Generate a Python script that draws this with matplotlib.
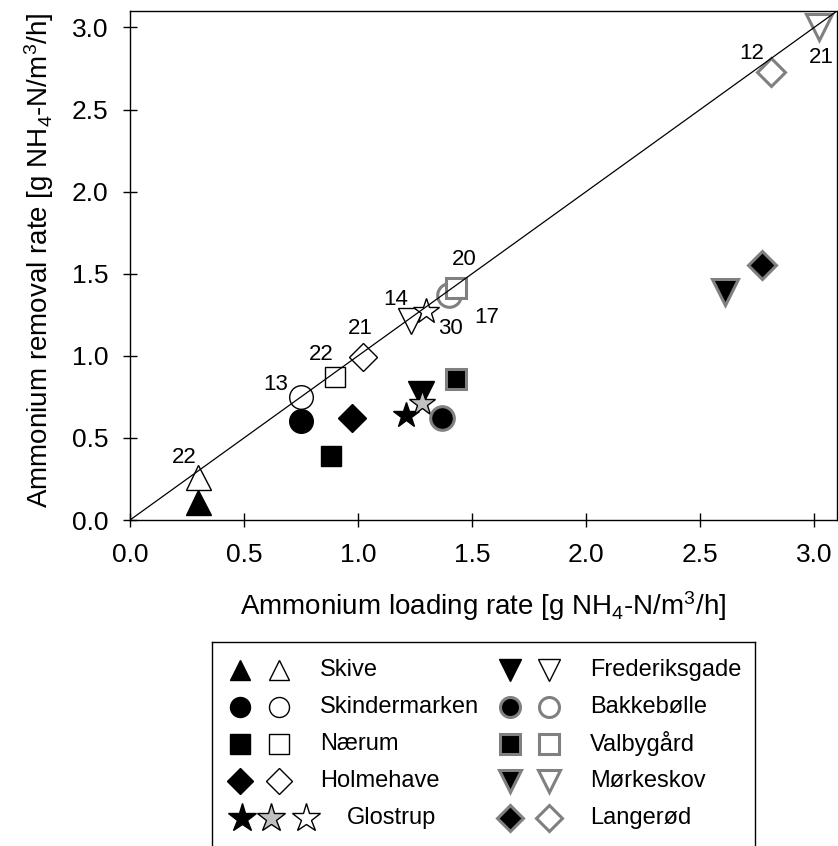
import numpy as np
import matplotlib
matplotlib.use('Agg')
import matplotlib.pyplot as plt

plt.rcParams['font.family'] = ['Liberation Sans', 'DejaVu Sans']
plt.rcParams['mathtext.fontset'] = 'custom'
plt.rcParams['mathtext.rm'] = 'Liberation Sans'
plt.rcParams['mathtext.it'] = 'Liberation Sans:italic'
plt.rcParams['mathtext.default'] = 'regular'

# data
sites = ['Skive', 'Skindermarken', 'Nærum', 'Holmehave', 'Glostrup',
         'Frederiksgade', 'Bakkebølle', 'Valbygård', 'Mørkeskov', 'Langerød']
load_closed = [0.30, 0.75, 0.88, 0.975, 1.21, 1.275, 1.37, 1.43, 2.61, 2.77]
rem_closed = [0.11, 0.60, 0.39, 0.62, 0.64, 0.77, 0.62, 0.86, 1.39, 1.555]
load_open = [0.30, 0.75, 0.90, 1.02, 1.30, 1.23, 1.40, 1.43, 3.02, 2.81]
rem_open = [0.26, 0.75, 0.87, 0.99, 1.27, 1.21, 1.37, 1.41, 3.00, 2.73]
open_labels = ['22', '13', '22', '21', '30', '14', '17', '20', '21', '12']
glostrup_grey_load = 1.28
glostrup_grey_rem = 0.71

# styles
markers = ['^', 'o', 's', 'D', '*', 'v', 'o', 's', 'v', 'D']
edges = ['black'] * 6 + ['#808080'] * 4
ew = [1.0] * 6 + [2.2] * 4
msize = {'^': 18, 'o': 17, 's': 15, 'D': 14, '*': 19, 'v': 19}
lab_off = [(-10, 14), (-18, 9), (-10, 16), (-2, 21), (17, -12),
           (-11, 16), (27, -16), (6, 21), (2, -22), (-14, 13)]
draw_order = [0, 1, 2, 3, 5, 4, 6, 7, 8, 9]

W, H = 838, 846
fig = plt.figure(figsize=(W / 100, H / 100), dpi=100)
ax = fig.add_axes([130 / W, (H - 520) / H, (837 - 130) / W, (520 - 11) / H])

lim = 3.1
ax.plot([0, lim], [0, lim], color='black', lw=0.9, zorder=30)

z = 2
for i in draw_order:
    m = markers[i]
    ax.plot(load_closed[i], rem_closed[i], marker=m, ms=msize[m], mfc='black',
            mec=edges[i], mew=ew[i], ls='none', zorder=z, clip_on=False)
    z += 1
    if sites[i] == 'Glostrup':
        ax.plot(glostrup_grey_load, glostrup_grey_rem, marker='*', ms=msize['*'],
                mfc='#c0c0c0', mec='black', mew=1.0, ls='none', zorder=z)
        z += 1
    ax.plot(load_open[i], rem_open[i], marker=m, ms=msize[m], mfc='white',
            mec=edges[i], mew=ew[i], ls='none', zorder=z, clip_on=False)
    z += 1
    ax.annotate(open_labels[i], (load_open[i], rem_open[i]), xytext=lab_off[i],
                textcoords='offset points', ha='center', va='center',
                fontsize=16, annotation_clip=False, zorder=40)

ax.set_xlim(0, lim)
ax.set_ylim(0, lim)
ticks = np.arange(0, 3.01, 0.5)
ax.set_xticks(ticks)
ax.set_yticks(ticks)
ax.set_xticklabels([f'{t:.1f}' for t in ticks])
ax.set_yticklabels([f'{t:.1f}' for t in ticks])
ax.tick_params(direction='inout', length=9.5, width=1, labelsize=19)
ax.tick_params(axis='x', pad=12)
ax.tick_params(axis='y', pad=11)
for s in ax.spines.values():
    s.set_linewidth(1.0)

ax.set_xlabel('Ammonium loading rate [g NH$_4$-N/m$^3$/h]', fontsize=20)
ax.set_ylabel('Ammonium removal rate [g NH$_4$-N/m$^3$/h]', fontsize=20)
ax.xaxis.set_label_coords(0.5, -0.135)
ax.yaxis.set_label_coords(-0.105, 0.51)

# legend box (runs off the bottom of the figure)
lax = fig.add_axes([212 / W, -20 / H, (755 - 212) / W, (H + 20 - 642) / H])
lax.set_xlim(212, 755)
lax.set_ylim(H + 20, 642)
lax.set_xticks([])
lax.set_yticks([])
lax.spines['bottom'].set_visible(False)
for s in ['left', 'right', 'top']:
    lax.spines[s].set_linewidth(1.0)

lsize = {'^': 15, 'o': 14.4, 's': 14.4, 'D': 13.5, '*': 21, 'v': 16}
for i, name in enumerate(sites):
    col, row = divmod(i, 5)
    y = 670 + 37 * row
    x0 = 240 if col == 0 else 510
    m = markers[i]
    if name == 'Glostrup':
        lax.plot(242, y, marker='*', ms=lsize['*'], mfc='black', mec='black', mew=1.0)
        lax.plot(271, y, marker='*', ms=lsize['*'], mfc='#c0c0c0', mec='black', mew=1.0)
        lax.plot(306, y, marker='*', ms=lsize['*'], mfc='white', mec='black', mew=1.0)
        tx = 347
    else:
        lax.plot(x0, y, marker=m, ms=lsize[m], mfc='black', mec=edges[i], mew=ew[i])
        lax.plot(x0 + 39, y, marker=m, ms=lsize[m], mfc='white', mec=edges[i], mew=ew[i])
        tx = 320 if col == 0 else 590
    lax.text(tx, y, name, fontsize=17, va='center', ha='left')

fig.savefig('out.png', dpi=100)
